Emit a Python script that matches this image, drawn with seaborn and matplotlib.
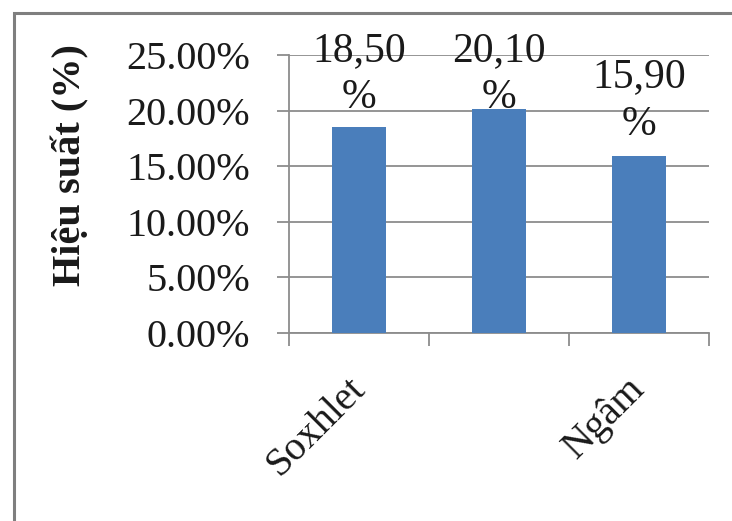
import matplotlib
matplotlib.use("Agg")
import matplotlib.pyplot as plt
import matplotlib.transforms as mtransforms
import seaborn as sns
from matplotlib.patches import Rectangle
from matplotlib.ticker import PercentFormatter

# data
categories = ["Soxhlet", "Siêu âm", "Ngâm"]
values = [0.185, 0.201, 0.159]
tick_labels = ["Soxhlet", "", "Ngâm"]  # middle label is dropped in the original
y_ticks = [0.0, 0.05, 0.10, 0.15, 0.20, 0.25]
y_label = "Hiệu suất (%)"

BAR_COLOR = "#4a7ebb"
GRID_COLOR = "#8c8c8c"
TEXT_COLOR = "#1a1a1a"
LABEL_CAP = 0.183  # excel keeps the data labels inside the chart area

sns.set_theme(style="white")
plt.rcParams["font.family"] = ["Liberation Serif", "DejaVu Serif"]

W, H = 732, 521
fig = plt.figure(figsize=(W / 100, H / 100), dpi=100)
ax = fig.add_axes([289 / W, 1 - 333 / H, (709 - 289) / W, (333 - 55) / H])

sns.barplot(x=categories, y=values, color=BAR_COLOR, saturation=1,
            width=0.39, linewidth=0, ax=ax, zorder=3)

ax.set_ylim(0, 0.25)
ax.set_yticks(y_ticks)
ax.yaxis.set_major_formatter(PercentFormatter(xmax=1, decimals=2))
ax.yaxis.grid(True, color=GRID_COLOR, lw=1.3)
ax.set_axisbelow(True)

for side in ["top", "right"]:
    ax.spines[side].set_visible(False)
for side in ["left", "bottom"]:
    ax.spines[side].set_color(GRID_COLOR)
    ax.spines[side].set_linewidth(1.3)

# category boundaries get the tick marks, centres get the labels
ax.set_xlim(-0.5, len(categories) - 0.5)
ax.set_xticks([i - 0.5 for i in range(len(categories) + 1)])
ax.set_xticks(range(len(categories)), minor=True)
ax.set_xticklabels(tick_labels, minor=True)
ax.tick_params(axis="x", which="major", direction="out", length=9,
               width=1.3, color=GRID_COLOR, labelbottom=False, bottom=True)
ax.tick_params(axis="x", which="minor", length=0, pad=41,
               labelsize=29, labelcolor=TEXT_COLOR, bottom=True)
shift = mtransforms.ScaledTranslation(7 / 100, 0, fig.dpi_scale_trans)
for lbl in ax.get_xticklabels(minor=True):
    lbl.set_rotation(45)
    lbl.set_ha("right")
    lbl.set_va("baseline")
    lbl.set_rotation_mode("anchor")
    lbl.set_transform(lbl.get_transform() + shift)

ax.tick_params(axis="y", direction="out", length=9, width=1.3,
               color=GRID_COLOR, pad=19, labelsize=29,
               labelcolor=TEXT_COLOR, left=True)

ax.set_xlabel("")
ax.set_ylabel(y_label, fontsize=29, fontweight="bold", color=TEXT_COLOR)
ax.yaxis.label.set_va("center")
ax.yaxis.set_label_coords((70 - 289) / 420, (333 - 165) / 278)

for i, v in enumerate(values):
    txt = f"{v * 100:.2f}".replace(".", ",") + "\n%"
    ax.annotate(txt, xy=(i, min(v, LABEL_CAP)), xytext=(0, 9),
                textcoords="offset points", ha="center", va="bottom",
                fontsize=30, color=TEXT_COLOR, linespacing=1.3)

# chart-area border (only left and top edges are inside the crop)
fig.add_artist(Rectangle((14 / W, -0.1), 1.2, 1.1 - 13 / H, fill=False,
                         edgecolor="#7f7f7f", lw=2.2,
                         transform=fig.transFigure))

fig.savefig("out.png", dpi=100)
